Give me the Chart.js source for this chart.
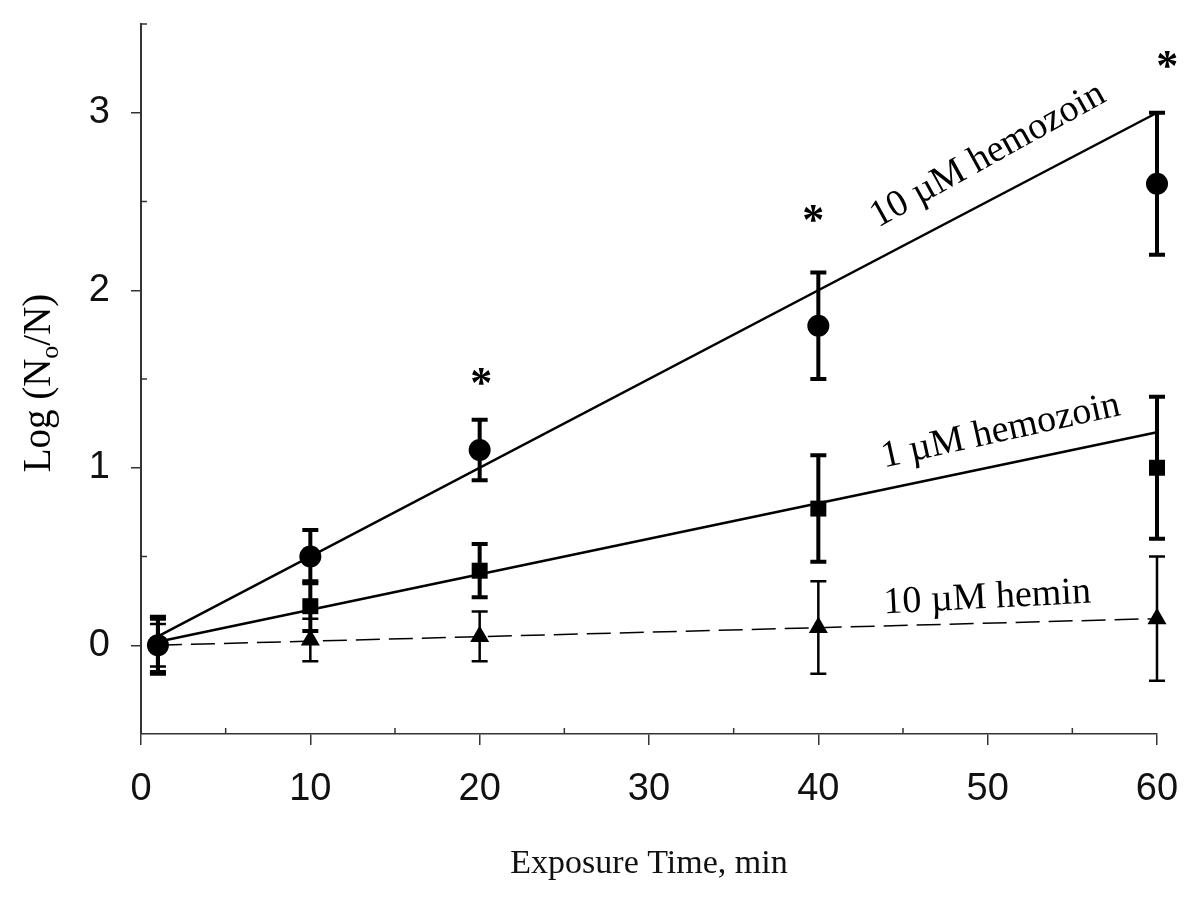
<!DOCTYPE html>
<html>
<head>
<meta charset="utf-8">
<script src="https://cdn.jsdelivr.net/npm/chart.js@4.4.1/dist/chart.umd.min.js"></script>
<style>
  body { margin: 0; background: #fff; }
  #wrap { width: 1200px; height: 902px; }
</style>
</head>
<body>
<div id="wrap"><canvas id="myChart" width="1200" height="902"></canvas></div>
<script>
// exposure times (min)
const times = [1, 10, 20, 40, 60];

// measured Log(No/N) and error bars
const hemozoin10 = [0, 0.5, 1.1, 1.8, 2.6];
const hemozoin10Err = [0.16, 0.15, 0.17, 0.3, 0.4];
const hemozoin1 = [0, 0.22, 0.42, 0.77, 1.0];
const hemozoin1Err = [0.15, 0.14, 0.15, 0.3, 0.4];
const hemin10 = [0, 0.03, 0.05, 0.1, 0.15];
const hemin10Err = [0.12, 0.12, 0.14, 0.26, 0.35];

// fitted lines (end points)
const fitTimes = [1, 60];
const fitHemozoin10 = [0.05, 3.0];
const fitHemozoin1 = [0.02, 1.2];
const fitHemin10 = [0.0, 0.15];

// significance marks
const starTimes = [20.1, 39.7, 60.6];
const starValues = [1.52, 2.44, 3.31];

// tick values
const xTicks = [0, 10, 20, 30, 40, 50, 60];
const xMinorTicks = [5, 15, 25, 35, 45, 55];
const yTicks = [0, 1, 2, 3];
const yMinorTicks = [0.5, 1.5, 2.5, 3.5];

// line labels: text, anchor (data units), angle (deg)
const lineLabels = ["10 \u00B5M hemozoin", "1 \u00B5M hemozoin", "10 \u00B5M hemin"];
const lineLabelX = [50.3, 50.9, 50.0];
const lineLabelY = [2.71, 1.15, 0.21];
const lineLabelAngle = [-29, -12.5, -3];

function pts(xs, ys) {
  return xs.map((x, i) => ({ x: x, y: ys[i] }));
}

const errorSets = [
  { values: hemozoin10, errs: hemozoin10Err, width: 4 },
  { values: hemozoin1, errs: hemozoin1Err, width: 4 },
  { values: hemin10, errs: hemin10Err, width: 2.5 },
];

const extras = {
  id: "extras",
  beforeDatasetsDraw(chart) {
    const ctx = chart.ctx;
    const xs = chart.scales.x;
    const ys = chart.scales.y;
    ctx.save();
    ctx.strokeStyle = "#000";
    errorSets.forEach((s) => {
      ctx.lineWidth = s.width;
      s.values.forEach((v, i) => {
        const px = xs.getPixelForValue(times[i]);
        const top = ys.getPixelForValue(v + s.errs[i]);
        const bot = ys.getPixelForValue(v - s.errs[i]);
        ctx.beginPath();
        ctx.moveTo(px, top);
        ctx.lineTo(px, bot);
        ctx.moveTo(px - 8, top);
        ctx.lineTo(px + 8, top);
        ctx.moveTo(px - 8, bot);
        ctx.lineTo(px + 8, bot);
        ctx.stroke();
      });
    });
    ctx.restore();
  },
  afterDraw(chart) {
    const ctx = chart.ctx;
    const xs = chart.scales.x;
    const ys = chart.scales.y;
    const area = chart.chartArea;
    ctx.save();

    // minor ticks point inward
    ctx.strokeStyle = "#333";
    ctx.lineWidth = 1.5;
    ctx.beginPath();
    yMinorTicks.forEach((v) => {
      const py = ys.getPixelForValue(v);
      ctx.moveTo(area.left, py);
      ctx.lineTo(area.left + 6, py);
    });
    xMinorTicks.forEach((v) => {
      const px = xs.getPixelForValue(v);
      ctx.moveTo(px, area.bottom);
      ctx.lineTo(px, area.bottom - 6);
    });
    ctx.stroke();

    // labels on the lines
    ctx.fillStyle = "#000";
    ctx.font = '38px "Liberation Serif", "Times New Roman", serif';
    ctx.textAlign = "center";
    ctx.textBaseline = "alphabetic";
    lineLabels.forEach((t, i) => {
      ctx.save();
      ctx.translate(xs.getPixelForValue(lineLabelX[i]), ys.getPixelForValue(lineLabelY[i]));
      ctx.rotate((lineLabelAngle[i] * Math.PI) / 180);
      ctx.fillText(t, 0, 0);
      ctx.restore();
    });

    // asterisks
    ctx.font = 'bold 44px "Liberation Serif", "Times New Roman", serif';
    starTimes.forEach((t, i) => {
      ctx.fillText("*", xs.getPixelForValue(t), ys.getPixelForValue(starValues[i]) + 22);
    });

    // y axis title with subscript
    const big = '39px "Liberation Serif", "Times New Roman", serif';
    const small = '26px "Liberation Serif", "Times New Roman", serif';
    const parts = [["Log (N", big, 0], ["o", small, 8], ["/N)", big, 0]];
    let total = 0;
    parts.forEach((p) => {
      ctx.font = p[1];
      total += ctx.measureText(p[0]).width;
    });
    ctx.translate(50, (area.top + area.bottom) / 2 + 4);
    ctx.rotate(-Math.PI / 2);
    ctx.textAlign = "left";
    let cx = -total / 2;
    parts.forEach((p) => {
      ctx.font = p[1];
      ctx.fillText(p[0], cx, p[2]);
      cx += ctx.measureText(p[0]).width;
    });
    ctx.restore();
  },
};

const ctx = document.getElementById("myChart");

new Chart(ctx, {
  type: "scatter",
  data: {
    datasets: [
      {
        label: "10 uM hemozoin fit",
        data: pts(fitTimes, fitHemozoin10),
        showLine: true,
        borderColor: "#000",
        borderWidth: 2.5,
        pointRadius: 0,
        clip: false,
      },
      {
        label: "1 uM hemozoin fit",
        data: pts(fitTimes, fitHemozoin1),
        showLine: true,
        borderColor: "#000",
        borderWidth: 2.5,
        pointRadius: 0,
        clip: false,
      },
      {
        label: "10 uM hemin fit",
        data: pts(fitTimes, fitHemin10),
        showLine: true,
        borderColor: "#000",
        borderWidth: 1.5,
        borderDash: [24, 9],
        pointRadius: 0,
        clip: false,
      },
      {
        label: "10 uM hemozoin",
        data: pts(times, hemozoin10),
        pointStyle: "circle",
        pointRadius: 11,
        backgroundColor: "#000",
        borderColor: "#000",
        borderWidth: 0,
        clip: false,
      },
      {
        label: "1 uM hemozoin",
        data: pts(times, hemozoin1),
        pointStyle: "rect",
        pointRadius: 11.3,
        backgroundColor: "#000",
        borderColor: "#000",
        borderWidth: 0,
        clip: false,
      },
      {
        label: "10 uM hemin",
        data: pts(times, hemin10),
        pointStyle: "triangle",
        pointRadius: 11,
        backgroundColor: "#000",
        borderColor: "#000",
        borderWidth: 0,
        clip: false,
      },
    ],
  },
  options: {
    responsive: false,
    animation: false,
    devicePixelRatio: 1,
    events: [],
    layout: { padding: { left: 0, right: 43, top: 24, bottom: 0 } },
    plugins: {
      legend: { display: false },
      tooltip: { enabled: false },
      title: { display: false },
    },
    scales: {
      x: {
        type: "linear",
        min: 0,
        max: 60,
        afterBuildTicks: (s) => { s.ticks = xTicks.map((v) => ({ value: v })); },
        afterFit: (s) => { s.height = 168; s.paddingLeft = 0; s.paddingRight = 0; },
        ticks: {
          color: "#111",
          padding: 22,
          maxRotation: 0,
          font: { family: '"Liberation Sans", Arial, sans-serif', size: 38 },
        },
        grid: { drawOnChartArea: false, drawTicks: true, tickLength: 11, color: "#333", lineWidth: 1.5 },
        border: { display: true, color: "#333", width: 1.5 },
        title: {
          display: true,
          text: "Exposure Time, min",
          color: "#111",
          padding: { top: 0, bottom: 18 },
          font: { family: '"Liberation Serif", "Times New Roman", serif', size: 34 },
        },
      },
      y: {
        type: "linear",
        min: -0.5,
        max: 3.5,
        afterBuildTicks: (s) => { s.ticks = yTicks.map((v) => ({ value: v })); },
        afterFit: (s) => { s.width = 141; s.paddingTop = 0; s.paddingBottom = 0; },
        ticks: {
          color: "#111",
          padding: 21,
          font: { family: '"Liberation Sans", Arial, sans-serif', size: 38 },
        },
        grid: { drawOnChartArea: false, drawTicks: true, tickLength: 10, color: "#333", lineWidth: 1.5 },
        border: { display: true, color: "#333", width: 2 },
      },
    },
  },
  plugins: [extras],
});
</script>
</body>
</html>
